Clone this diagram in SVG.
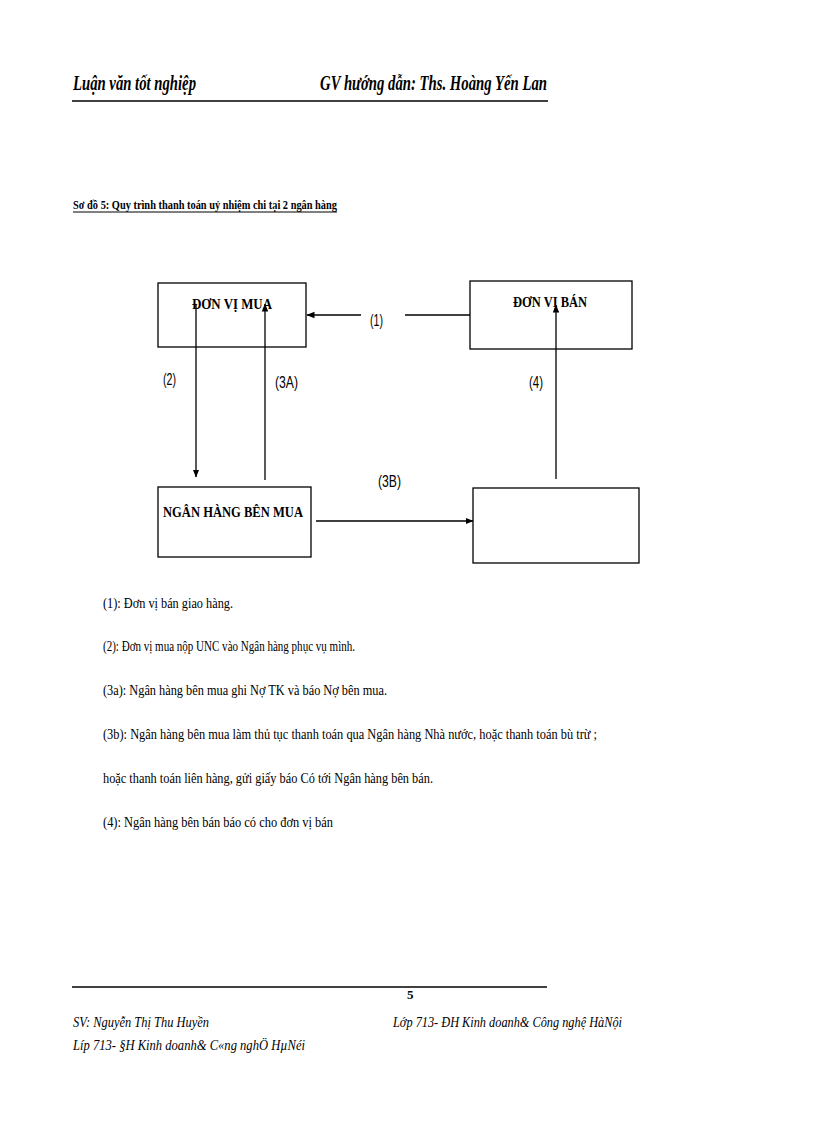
<svg xmlns="http://www.w3.org/2000/svg" width="816" height="1123" viewBox="0 0 816 1123">
<style>
.hdr{font-family:"Liberation Serif",serif;font-weight:bold;font-style:italic;font-size:22px;fill:#000}
.ttl{font-family:"Liberation Serif",serif;font-weight:bold;font-size:13px;fill:#000}
.node{font-family:"Liberation Serif",serif;font-weight:bold;font-size:15px;fill:#000}
.lbl{font-family:"Liberation Sans",sans-serif;font-size:16px;fill:#000}
.body{font-family:"Liberation Serif",serif;font-size:15px;fill:#000}
.ft{font-family:"Liberation Serif",serif;font-style:italic;font-size:15px;fill:#000}
.box{fill:#fff;stroke:#000;stroke-width:1.3}
.ln{stroke:#000;stroke-width:1.3;fill:none}
</style>
<defs>
<marker id="ah" viewBox="0 0 8 8" refX="7.5" refY="4" markerWidth="8" markerHeight="8" markerUnits="userSpaceOnUse" orient="auto">
<path d="M0,0.8 L8,4 L0,7.2 Z" fill="#000"/>
</marker>
</defs>
<rect width="816" height="1123" fill="#fff"/>
<g id="header">
<text class="hdr" x="73" y="90" textLength="123" lengthAdjust="spacingAndGlyphs">Luận văn tốt nghiệp</text>
<text class="hdr" x="320" y="90" textLength="227" lengthAdjust="spacingAndGlyphs">GV hướng dẫn: Ths. Hoàng Yến Lan</text>
<line x1="72" y1="101" x2="548" y2="101" stroke="#000" stroke-width="1.5"/>
</g>
<g id="title">
<text class="ttl" x="73" y="209" textLength="264" lengthAdjust="spacingAndGlyphs">Sơ đồ  5: Quy trình thanh  toán uỷ nhiệm chi tại 2 ngân hàng</text>
<line x1="73" y1="212" x2="337" y2="212" stroke="#000" stroke-width="1"/>
</g>
<g id="node-don-vi-mua">
<rect class="box" x="158" y="283" width="148" height="64"/>
<text class="node" x="192" y="309" textLength="80" lengthAdjust="spacingAndGlyphs">ĐƠN VỊ MUA</text>
</g>
<g id="node-don-vi-ban">
<rect class="box" x="470" y="281" width="162" height="68"/>
<text class="node" x="513" y="307" textLength="74" lengthAdjust="spacingAndGlyphs">ĐƠN VỊ BÁN</text>
</g>
<g id="node-ngan-hang-ben-mua">
<rect class="box" x="158" y="487" width="153" height="70"/>
<text class="node" x="163" y="517" textLength="140" lengthAdjust="spacingAndGlyphs">NGÂN HÀNG BÊN MUA</text>
</g>
<g id="node-ngan-hang-ben-ban">
<rect class="box" x="473" y="488" width="166" height="75"/>
</g>
<g id="connectors">
<line class="ln" x1="470" y1="315" x2="405" y2="315"/>
<line class="ln" x1="361" y1="315" x2="307" y2="315" marker-end="url(#ah)"/>
<line class="ln" x1="196" y1="305" x2="196" y2="477" marker-end="url(#ah)"/>
<line class="ln" x1="265" y1="480" x2="265" y2="304" marker-end="url(#ah)"/>
<line class="ln" x1="556" y1="479" x2="556" y2="305" marker-end="url(#ah)"/>
<line class="ln" x1="316" y1="521" x2="473" y2="521" marker-end="url(#ah)"/>
<text class="lbl" x="370" y="326" textLength="13" lengthAdjust="spacingAndGlyphs">(1)</text>
<text class="lbl" x="163" y="385" textLength="13" lengthAdjust="spacingAndGlyphs">(2)</text>
<text class="lbl" x="275" y="388" textLength="23" lengthAdjust="spacingAndGlyphs">(3A)</text>
<text class="lbl" x="529" y="388" textLength="14" lengthAdjust="spacingAndGlyphs">(4)</text>
<text class="lbl" x="378" y="487" textLength="23" lengthAdjust="spacingAndGlyphs">(3B)</text>
</g>
<g id="legend">
<text class="body" x="103" y="608" textLength="130" lengthAdjust="spacingAndGlyphs">(1): Đơn vị bán giao  hàng.</text>
<text class="body" x="103" y="651" textLength="252" lengthAdjust="spacingAndGlyphs">(2): Đơn vị mua  nộp UNC vào Ngân hàng  phục  vụ mình.</text>
<text class="body" x="103" y="695" textLength="284" lengthAdjust="spacingAndGlyphs">(3a): Ngân hàng  bên mua ghi  Nợ TK và báo Nợ bên mua.</text>
<text class="body" x="103" y="739" textLength="494" lengthAdjust="spacingAndGlyphs">(3b): Ngân hàng  bên mua làm thủ tục thanh  toán qua Ngân hàng  Nhà nước, hoặc thanh  toán bù trừ ;</text>
<text class="body" x="103" y="783" textLength="330" lengthAdjust="spacingAndGlyphs">hoặc thanh  toán liên  hàng, gửi giấy  báo Có tới Ngân hàng  bên bán.</text>
<text class="body" x="103" y="827" textLength="230" lengthAdjust="spacingAndGlyphs">(4): Ngân hàng bên bán báo có cho đơn vị bán</text>
</g>
<g id="footer">
<line x1="72" y1="987" x2="547" y2="987" stroke="#000" stroke-width="1.5"/>
<text class="ttl" x="407" y="999">5</text>
<text class="ft" x="73" y="1027" textLength="136" lengthAdjust="spacingAndGlyphs">SV: Nguyễn Thị Thu Huyền</text>
<text class="ft" x="393" y="1027" textLength="229" lengthAdjust="spacingAndGlyphs">Lớp 713- ĐH Kinh doanh&amp; Công nghệ HàNội</text>
<text class="ft" x="73" y="1050" textLength="232" lengthAdjust="spacingAndGlyphs">Líp 713- §H Kinh doanh&amp; C«ng nghÖ HµNéi</text>
</g>
</svg>
